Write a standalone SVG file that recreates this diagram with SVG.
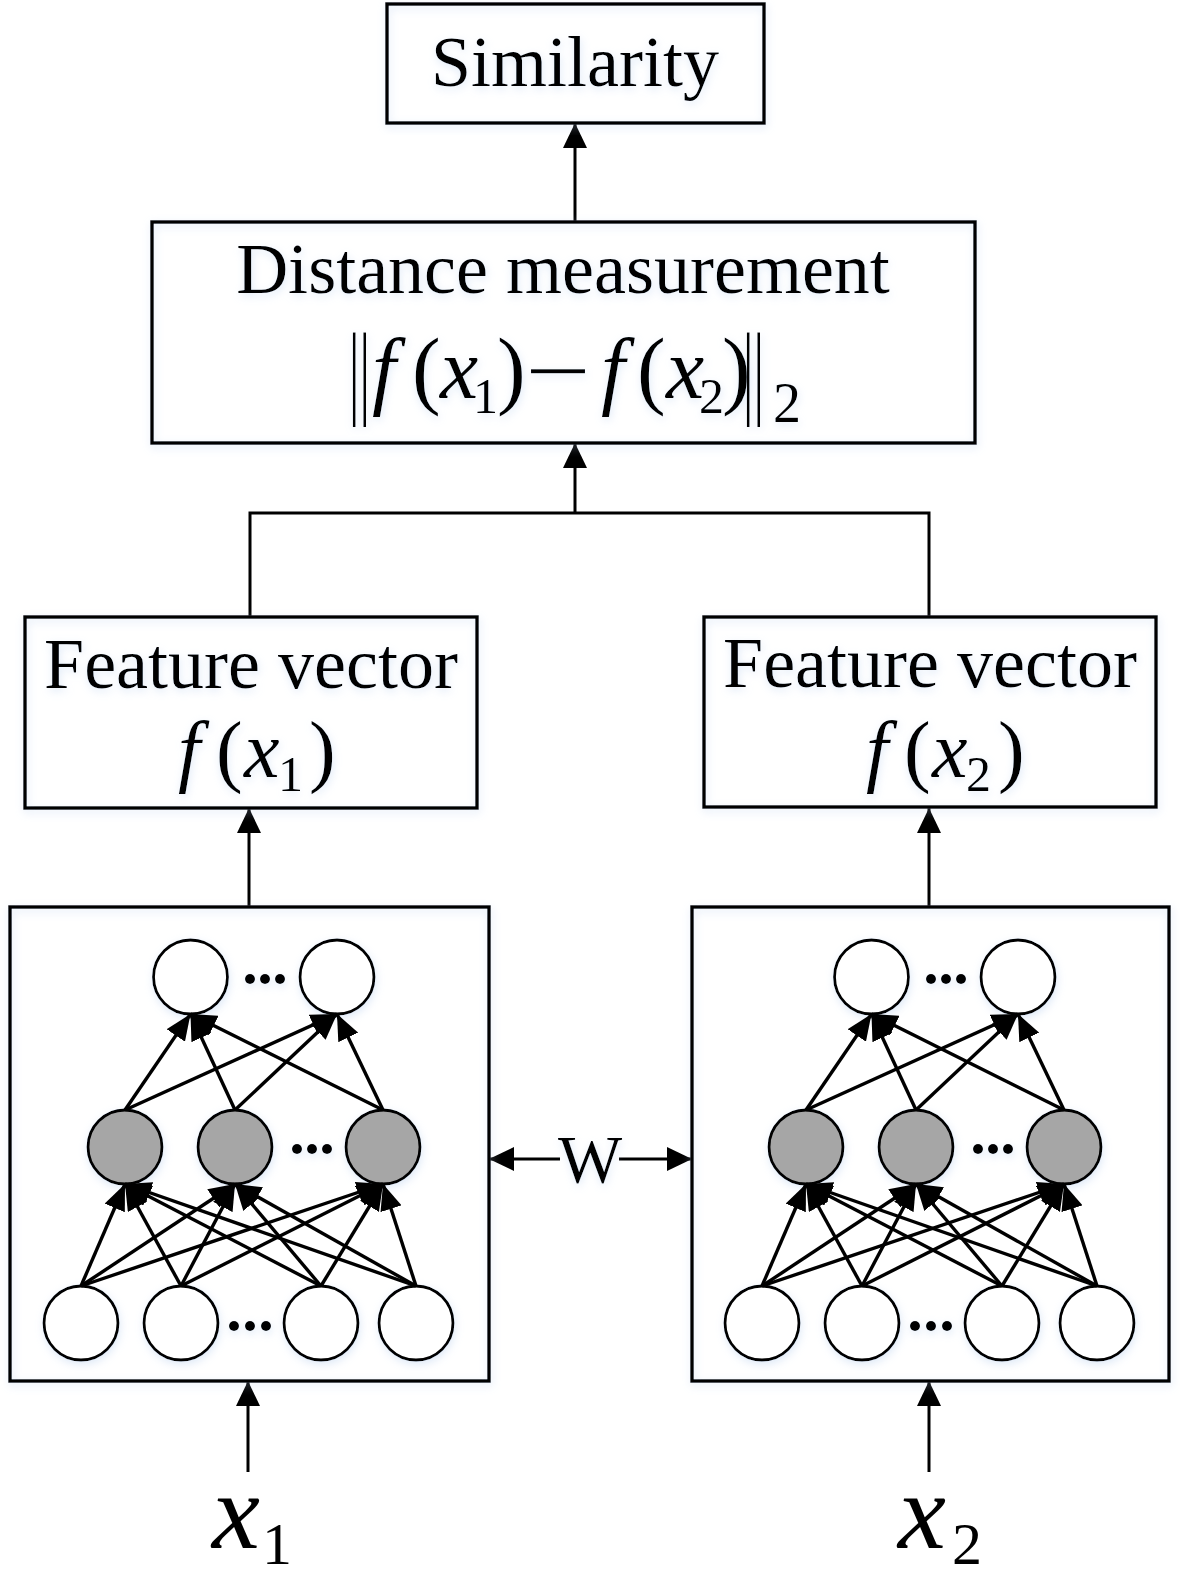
<svg xmlns="http://www.w3.org/2000/svg" xmlns:xlink="http://www.w3.org/1999/xlink" width="1180" height="1579" viewBox="0 0 1180 1579">
<style>
  .box { fill: none; stroke: #000; stroke-width: 3.5; }
  .serif { font-family: "Liberation Serif", "Times New Roman", serif; fill: #000; }
  .it { font-style: italic; }
  .conn { stroke: #000; stroke-width: 3; fill: none; }
  .edge { stroke: #000; stroke-width: 3.4; fill: none; marker-end: url(#nnArrow); }
  .neuron { fill: #fff; stroke: #000; stroke-width: 2.8; }
  .hidden { fill: #a6a6a6; stroke: #000; stroke-width: 2.8; }
  .dot { fill: #000; }
</style>
<defs>
  <filter id="glow" x="-10%" y="-10%" width="120%" height="120%">
    <feGaussianBlur in="SourceAlpha" stdDeviation="4"/>
    <feOffset dx="1" dy="3" result="b"/>
    <feFlood flood-color="#b7cfee" flood-opacity="0.45"/>
    <feComposite in2="b" operator="in"/>
    <feMerge><feMergeNode/><feMergeNode in="SourceGraphic"/></feMerge>
  </filter>
  <marker id="arrow" viewBox="0 -12 25 24" refX="25" refY="0" markerWidth="25" markerHeight="24" markerUnits="userSpaceOnUse" orient="auto">
    <path d="M0,-12 L25,0 L0,12 z" fill="#000"/>
  </marker>
  <marker id="nnArrow" viewBox="0 -11 26 22" refX="26" refY="0" markerWidth="26" markerHeight="22" markerUnits="userSpaceOnUse" orient="auto">
    <path d="M0,-11 L26,0 L0,11 z" fill="#000"/>
  </marker>
  <g id="netContent">
    <g filter="url(#glow)">
      <circle class="neuron" cx="190.5" cy="977" r="37"/>
      <circle class="neuron" cx="337" cy="977" r="37"/>
      <circle class="hidden" cx="125" cy="1147" r="37"/>
      <circle class="hidden" cx="235" cy="1147" r="37"/>
      <circle class="hidden" cx="383" cy="1147" r="37"/>
      <circle class="neuron" cx="81" cy="1323" r="37"/>
      <circle class="neuron" cx="181" cy="1323" r="37"/>
      <circle class="neuron" cx="321" cy="1323" r="37"/>
      <circle class="neuron" cx="416" cy="1323" r="37"/>
      <circle class="dot" cx="250" cy="979" r="5"/>
      <circle class="dot" cx="265" cy="979" r="5"/>
      <circle class="dot" cx="280" cy="979" r="5"/>
      <circle class="dot" cx="297" cy="1149" r="5"/>
      <circle class="dot" cx="312" cy="1149" r="5"/>
      <circle class="dot" cx="327" cy="1149" r="5"/>
      <circle class="dot" cx="234" cy="1326" r="5"/>
      <circle class="dot" cx="250" cy="1326" r="5"/>
      <circle class="dot" cx="266" cy="1326" r="5"/>
    </g>
    <g class="net-edges">
      <line class="edge" x1="125" y1="1110" x2="190.5" y2="1014"/>
      <line class="edge" x1="125" y1="1110" x2="337" y2="1014"/>
      <line class="edge" x1="235" y1="1110" x2="190.5" y2="1014"/>
      <line class="edge" x1="235" y1="1110" x2="337" y2="1014"/>
      <line class="edge" x1="383" y1="1110" x2="190.5" y2="1014"/>
      <line class="edge" x1="383" y1="1110" x2="337" y2="1014"/>
      <line class="edge" x1="81" y1="1286" x2="125" y2="1184"/>
      <line class="edge" x1="81" y1="1286" x2="235" y2="1184"/>
      <line class="edge" x1="81" y1="1286" x2="383" y2="1184"/>
      <line class="edge" x1="181" y1="1286" x2="125" y2="1184"/>
      <line class="edge" x1="181" y1="1286" x2="235" y2="1184"/>
      <line class="edge" x1="181" y1="1286" x2="383" y2="1184"/>
      <line class="edge" x1="321" y1="1286" x2="125" y2="1184"/>
      <line class="edge" x1="321" y1="1286" x2="235" y2="1184"/>
      <line class="edge" x1="321" y1="1286" x2="383" y2="1184"/>
      <line class="edge" x1="416" y1="1286" x2="125" y2="1184"/>
      <line class="edge" x1="416" y1="1286" x2="235" y2="1184"/>
      <line class="edge" x1="416" y1="1286" x2="383" y2="1184"/>
    </g>
  </g>
</defs>

<g id="connectors">
  <line class="conn" x1="575" y1="222" x2="575" y2="123" marker-end="url(#arrow)"/>
  <polyline class="conn" points="250,617 250,513 929,513 929,617"/>
  <line class="conn" x1="575" y1="513" x2="575" y2="443" marker-end="url(#arrow)"/>
  <line class="conn" x1="249" y1="906" x2="249" y2="808" marker-end="url(#arrow)"/>
  <line class="conn" x1="929" y1="906" x2="929" y2="808" marker-end="url(#arrow)"/>
  <line class="conn" x1="248" y1="1472" x2="248" y2="1381" marker-end="url(#arrow)"/>
  <line class="conn" x1="929" y1="1472" x2="929" y2="1381" marker-end="url(#arrow)"/>
  <line class="conn" x1="560" y1="1159" x2="489" y2="1159" marker-end="url(#arrow)"/>
  <line class="conn" x1="619" y1="1159" x2="692" y2="1159" marker-end="url(#arrow)"/>
</g>

<g id="similarity" filter="url(#glow)">
  <rect class="box" x="387" y="4" width="377" height="119"/>
  <text class="serif" x="575" y="86" font-size="72" text-anchor="middle">Similarity</text>
</g>

<g id="distance" filter="url(#glow)">
  <rect class="box" x="152" y="222" width="823" height="221"/>
  <text class="serif" x="563" y="293" font-size="72" text-anchor="middle">Distance measurement</text>
  <text class="serif" transform="translate(349,405) scale(0.5,1)" font-size="104">||</text>
  <text class="serif" font-size="86">
    <tspan class="it" x="372" y="398">f</tspan><tspan x="412" y="398">(</tspan><tspan class="it" x="440" y="398">x</tspan><tspan x="473" y="413" font-size="50">1</tspan><tspan x="497" y="398">)</tspan>
  </text>
  <text class="serif" transform="translate(558,398) scale(1.45,1)" font-size="80" text-anchor="middle">−</text>
  <text class="serif" font-size="86">
    <tspan class="it" x="601" y="398">f</tspan><tspan x="637" y="398">(</tspan><tspan class="it" x="666" y="398">x</tspan><tspan x="699" y="413" font-size="50">2</tspan><tspan x="722" y="398">)</tspan>
  </text>
  <text class="serif" transform="translate(743,405) scale(0.5,1)" font-size="104">||</text>
  <text class="serif" x="773" y="422" font-size="56">2</text>
</g>

<g id="feature1" filter="url(#glow)">
  <rect class="box" x="25" y="617" width="452" height="191"/>
  <text class="serif" x="251" y="688" font-size="72" text-anchor="middle">Feature vector</text>
  <text class="serif" font-size="80">
    <tspan class="it" x="178" y="777">f</tspan><tspan x="216" y="777">(</tspan><tspan class="it" x="244" y="777">x</tspan><tspan x="278" y="791" font-size="50">1</tspan><tspan x="309" y="777">)</tspan>
  </text>
</g>

<g id="feature2" filter="url(#glow)">
  <rect class="box" x="704" y="617" width="452" height="190"/>
  <text class="serif" x="930" y="687" font-size="72" text-anchor="middle">Feature vector</text>
  <text class="serif" font-size="80">
    <tspan class="it" x="866" y="777">f</tspan><tspan x="904" y="777">(</tspan><tspan class="it" x="932" y="777">x</tspan><tspan x="966" y="791" font-size="50">2</tspan><tspan x="998" y="777">)</tspan>
  </text>
</g>

<g id="network1">
  <rect class="box" x="10" y="907" width="479" height="474" filter="url(#glow)"/>
  <use xlink:href="#netContent" href="#netContent"/>
</g>

<g id="network2">
  <rect class="box" x="692" y="907" width="477" height="474" filter="url(#glow)"/>
  <use xlink:href="#netContent" href="#netContent" transform="translate(681,0)"/>
</g>

<g id="shared-weights" filter="url(#glow)">
  <text class="serif" x="590" y="1182" font-size="68" text-anchor="middle">W</text>
</g>

<g id="input1">
  <text class="serif" font-size="108"><tspan class="it" x="212" y="1548">x</tspan><tspan x="262" y="1564" font-size="60">1</tspan></text>
</g>

<g id="input2">
  <text class="serif" font-size="108"><tspan class="it" x="898" y="1548">x</tspan><tspan x="952" y="1564" font-size="60">2</tspan></text>
</g>
</svg>
